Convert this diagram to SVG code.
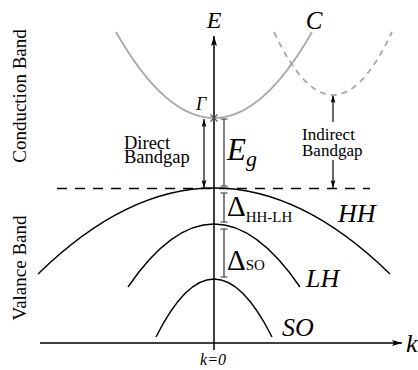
<svg xmlns="http://www.w3.org/2000/svg" width="418" height="370" viewBox="0 0 418 370">
<style>
.ax{stroke:#000;stroke-width:1.5;fill:none}
.band{stroke:#000;stroke-width:1.4;fill:none}
.cb{stroke:#a8a8a8;stroke-width:1.8;fill:none}
.cbd{stroke:#a8a8a8;stroke-width:1.8;fill:none;stroke-dasharray:6 5}
.br{stroke:#333;stroke-width:1.2;fill:none}
.arr{stroke:#000;stroke-width:1.2;fill:none}
</style>
<defs>
<marker id="ah" viewBox="0 0 10 6" refX="10" refY="3" markerWidth="10" markerHeight="6" markerUnits="userSpaceOnUse" orient="auto-start-reverse">
<path d="M0,0 L10,3 L0,6 L2,3 Z" fill="#000"/>
</marker>
<marker id="ahs" viewBox="0 0 10 6" refX="10" refY="3" markerWidth="8" markerHeight="5" markerUnits="userSpaceOnUse" orient="auto-start-reverse">
<path d="M0,0 L10,3 L0,6 L2,3 Z" fill="#000"/>
</marker>
</defs>

<g font-family="'Liberation Serif', 'Times New Roman', 'DejaVu Serif', serif" fill="#000">
<g id="side-labels">
<text font-size="19" text-anchor="middle" transform="translate(26,96) rotate(-90)">Conduction Band</text>
<text font-size="19" text-anchor="middle" transform="translate(26,268) rotate(-90)">Valance Band</text>
</g>
</g>

<g id="connectors">
<line id="k-axis" class="ax" x1="40" y1="343" x2="402" y2="343" marker-end="url(#ah)"/>
<line id="E-axis" class="ax" x1="214" y1="350" x2="214" y2="36" marker-end="url(#ah)"/>
<line id="fermi" x1="57" y1="188.5" x2="370" y2="188.5" stroke="#000" stroke-width="1.4" stroke-dasharray="10 8"/>
<line id="direct-arrow" class="arr" x1="204" y1="119" x2="204" y2="188" marker-start="url(#ahs)" marker-end="url(#ahs)"/>
<line id="indirect-up" class="arr" x1="333" y1="122" x2="333" y2="95" marker-end="url(#ahs)"/>
<line id="indirect-down" class="arr" x1="333" y1="160" x2="333" y2="188" marker-end="url(#ahs)"/>
<path id="eg-bracket" class="br" d="M224,119 V186 M220.5,119 H227.5 M220.5,186 H227.5"/>
<path id="hhlh-bracket" class="br" d="M224,193 V222 M220.5,193 H227.5 M220.5,222 H227.5"/>
<path id="so-bracket" class="br" d="M224,229 V277 M220.5,229 H227.5 M220.5,277 H227.5"/>
</g>

<g id="conduction-band">
<path class="cb" d="M116,32 Q214,204 312,32"/>
<path class="cbd" d="M274,32 Q333,158 392,32"/>
<path d="M210.5,114.5 L217.5,121.5 M217.5,114.5 L210.5,121.5" stroke="#555" stroke-width="1.1"/>
</g>

<g id="HH"><path class="band" d="M38,274 Q214,102 390,274"/></g>
<g id="LH"><path class="band" d="M128,287 Q214,161 300,287"/></g>
<g id="SO"><path class="band" d="M156,337 Q214,221 272,337"/></g>

<g id="labels" font-family="'Liberation Serif', 'Times New Roman', 'DejaVu Serif', serif" fill="#000">
<text font-style="italic" font-size="24" x="214" y="28" text-anchor="middle">E</text>
<text font-style="italic" font-size="25" x="314" y="29" text-anchor="middle">C</text>
<text font-style="italic" font-size="18" x="201" y="110" text-anchor="middle">Γ</text>
<text font-size="18.5" x="124" y="149">Direct</text>
<text font-size="18.5" x="124" y="163">Bandgap</text>
<text font-size="17" x="302" y="140">Indirect</text>
<text font-size="17" x="302" y="156">Bandgap</text>
<text font-style="italic" font-size="31" x="227" y="160">E<tspan font-size="22" dy="6">g</tspan></text>
<text font-size="29" x="227" y="216">Δ<tspan font-size="15" dy="6">HH-LH</tspan></text>
<text font-size="29" x="227" y="270">Δ<tspan font-size="15">SO</tspan></text>
<text font-style="italic" font-size="26" x="338" y="222">HH</text>
<text font-style="italic" font-size="26" x="306" y="287">LH</text>
<text font-style="italic" font-size="26" x="282" y="336">SO</text>
<text font-style="italic" font-size="26" x="406" y="352">k</text>
<text font-style="italic" font-size="16" x="213" y="365" text-anchor="middle">k=0</text>
</g>
</svg>
